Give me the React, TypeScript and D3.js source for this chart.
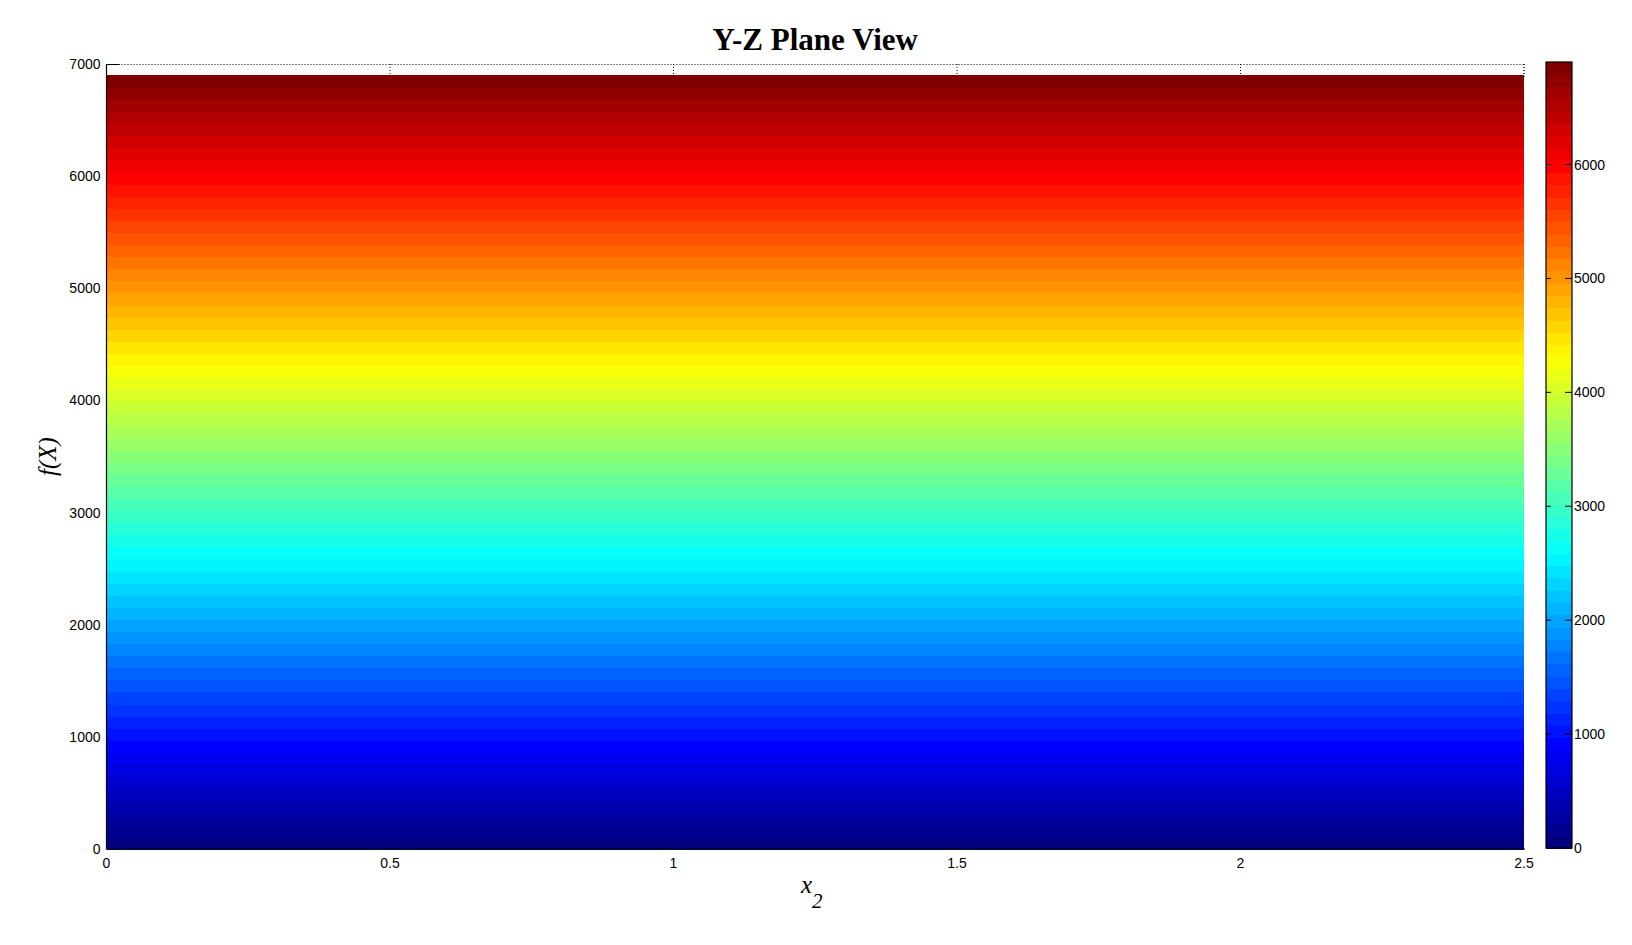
import React, { useRef, useEffect } from "react";
import * as d3 from "d3";

// Tick values
const xTicks: number[] = [0, 0.5, 1, 1.5, 2, 2.5];
const yTicks: number[] = [0, 1000, 2000, 3000, 4000, 5000, 6000, 7000];
const cbTicks: number[] = [0, 1000, 2000, 3000, 4000, 5000, 6000];

// Surface value range (f(X) varies only along the vertical axis)
const xRange: [number, number] = [0, 2.5];
const fRange: [number, number] = [0, 6900];
const nColors = 64;

// MATLAB-style jet colormap
function jet(t: number): string {
    const c = (v: number) => Math.max(0, Math.min(1, v));
    const r = c(1.5 - Math.abs(4 * t - 3));
    const g = c(1.5 - Math.abs(4 * t - 2));
    const b = c(1.5 - Math.abs(4 * t - 1));
    return d3.rgb(r * 255, g * 255, b * 255).formatHex();
}

const App: React.FC = () => {
    const ref = useRef<SVGSVGElement | null>(null);
    const width = 1632;
    const height = 945;

    useEffect(() => {
        if (!ref.current) return;
        const svg = d3.select(ref.current);
        svg.selectAll("*").remove();

        const plot = { left: 106.5, right: 1524, top: 64, bottom: 849 };
        const cb = { left: 1546, right: 1572, top: 62, bottom: 848 };

        const x = d3.scaleLinear().domain(xRange).range([plot.left, plot.right]);
        const y = d3.scaleLinear().domain([0, 7000]).range([plot.bottom, plot.top]);
        const yc = d3.scaleLinear().domain(fRange).range([cb.bottom, cb.top]);

        // colour bands: one per colormap entry
        const step = (fRange[1] - fRange[0]) / nColors;
        const bands = d3.range(nColors).map((i) => ({
            lo: fRange[0] + i * step,
            hi: fRange[0] + (i + 1) * step,
            color: jet(i / (nColors - 1)),
        }));

        const font = "'Liberation Sans', Arial, sans-serif";

        // top ticks (dotted, mostly hidden under surface)
        const top = svg.append("g");
        top.selectAll("line")
            .data(xTicks)
            .enter()
            .append("line")
            .attr("x1", (d) => x(d))
            .attr("x2", (d) => x(d))
            .attr("y1", plot.top)
            .attr("y2", plot.top + 14)
            .attr("stroke", "#000")
            .attr("stroke-dasharray", "1,2");

        // the surface
        svg.append("g")
            .selectAll("rect")
            .data(bands)
            .enter()
            .append("rect")
            .attr("x", x(xRange[0]))
            .attr("width", x(xRange[1]) - x(xRange[0]))
            .attr("y", (d) => y(d.hi))
            .attr("height", (d) => y(d.lo) - y(d.hi) + 0.6)
            .attr("fill", (d) => d.color)
            .attr("shape-rendering", "crispEdges");

        // axes box
        svg.append("line")
            .attr("x1", plot.left).attr("x2", plot.right)
            .attr("y1", plot.top + 0.5).attr("y2", plot.top + 0.5)
            .attr("stroke", "#000").attr("stroke-dasharray", "1,2");
        svg.append("line")
            .attr("x1", plot.right).attr("x2", plot.right)
            .attr("y1", plot.top).attr("y2", y(fRange[1]))
            .attr("stroke", "#000").attr("stroke-dasharray", "1,2");
        svg.append("line")
            .attr("x1", plot.left).attr("x2", plot.left)
            .attr("y1", plot.top).attr("y2", plot.bottom + 0.5)
            .attr("stroke", "#000").attr("stroke-width", 1.2);
        svg.append("line")
            .attr("x1", plot.left).attr("x2", plot.right + 1)
            .attr("y1", plot.bottom).attr("y2", plot.bottom)
            .attr("stroke", "#000").attr("stroke-width", 1.2);
        // visible 7000 tick
        svg.append("line")
            .attr("x1", plot.left).attr("x2", plot.left + 13)
            .attr("y1", y(7000) + 0.5).attr("y2", y(7000) + 0.5)
            .attr("stroke", "#000");

        // y tick labels
        svg.append("g")
            .selectAll("text")
            .data(yTicks)
            .enter()
            .append("text")
            .attr("x", plot.left - 6)
            .attr("y", (d) => y(d) + 5)
            .attr("text-anchor", "end")
            .attr("font-family", font)
            .attr("font-size", 14)
            .text((d) => d);

        // x tick labels
        svg.append("g")
            .selectAll("text")
            .data(xTicks)
            .enter()
            .append("text")
            .attr("x", (d) => x(d))
            .attr("y", plot.bottom + 19)
            .attr("text-anchor", "middle")
            .attr("font-family", font)
            .attr("font-size", 14)
            .text((d) => d);

        // colorbar
        svg.append("g")
            .selectAll("rect")
            .data(bands)
            .enter()
            .append("rect")
            .attr("x", cb.left)
            .attr("width", cb.right - cb.left)
            .attr("y", (d) => yc(d.hi))
            .attr("height", (d) => yc(d.lo) - yc(d.hi) + 0.6)
            .attr("fill", (d) => d.color)
            .attr("shape-rendering", "crispEdges");
        svg.append("rect")
            .attr("x", cb.left)
            .attr("y", cb.top)
            .attr("width", cb.right - cb.left)
            .attr("height", cb.bottom - cb.top)
            .attr("fill", "none")
            .attr("stroke", "#000")
            .attr("stroke-width", 1.2);
        const cbt = svg.append("g");
        cbTicks.forEach((t) => {
            if (t === 0) return;
            cbt.append("line")
                .attr("x1", cb.left).attr("x2", cb.left + 5)
                .attr("y1", yc(t)).attr("y2", yc(t))
                .attr("stroke", "#000");
            cbt.append("line")
                .attr("x1", cb.right - 7).attr("x2", cb.right)
                .attr("y1", yc(t)).attr("y2", yc(t))
                .attr("stroke", "#000");
        });
        cbt.selectAll("text")
            .data(cbTicks)
            .enter()
            .append("text")
            .attr("x", cb.right + 2)
            .attr("y", (d) => yc(d) + 5)
            .attr("font-family", font)
            .attr("font-size", 14)
            .text((d) => d);

        // title and axis labels
        svg.append("text")
            .attr("x", (plot.left + plot.right) / 2)
            .attr("y", 50)
            .attr("text-anchor", "middle")
            .attr("font-family", "'Liberation Serif', 'Times New Roman', serif")
            .attr("font-weight", "bold")
            .attr("font-size", 31)
            .text("Y-Z Plane View");

        svg.append("text")
            .attr("transform", `translate(56,${(plot.top + plot.bottom) / 2}) rotate(-90)`)
            .attr("text-anchor", "middle")
            .attr("font-family", "'Liberation Serif', 'Times New Roman', serif")
            .attr("font-style", "italic")
            .attr("font-size", 25)
            .text("f(X)");

        const xl = svg.append("text")
            .attr("x", 801)
            .attr("y", 893)
            .attr("font-family", "'Liberation Serif', 'Times New Roman', serif")
            .attr("font-style", "italic")
            .attr("font-size", 25);
        xl.append("tspan").text("x");
        xl.append("tspan").attr("dy", 15).attr("font-size", 21).text("2");
    }, []);

    return (
        <svg
            ref={ref}
            width={width}
            height={height}
            style={{ position: "absolute", left: 0, top: 0, background: "#fff" }}
        />
    );
};

export default App;
